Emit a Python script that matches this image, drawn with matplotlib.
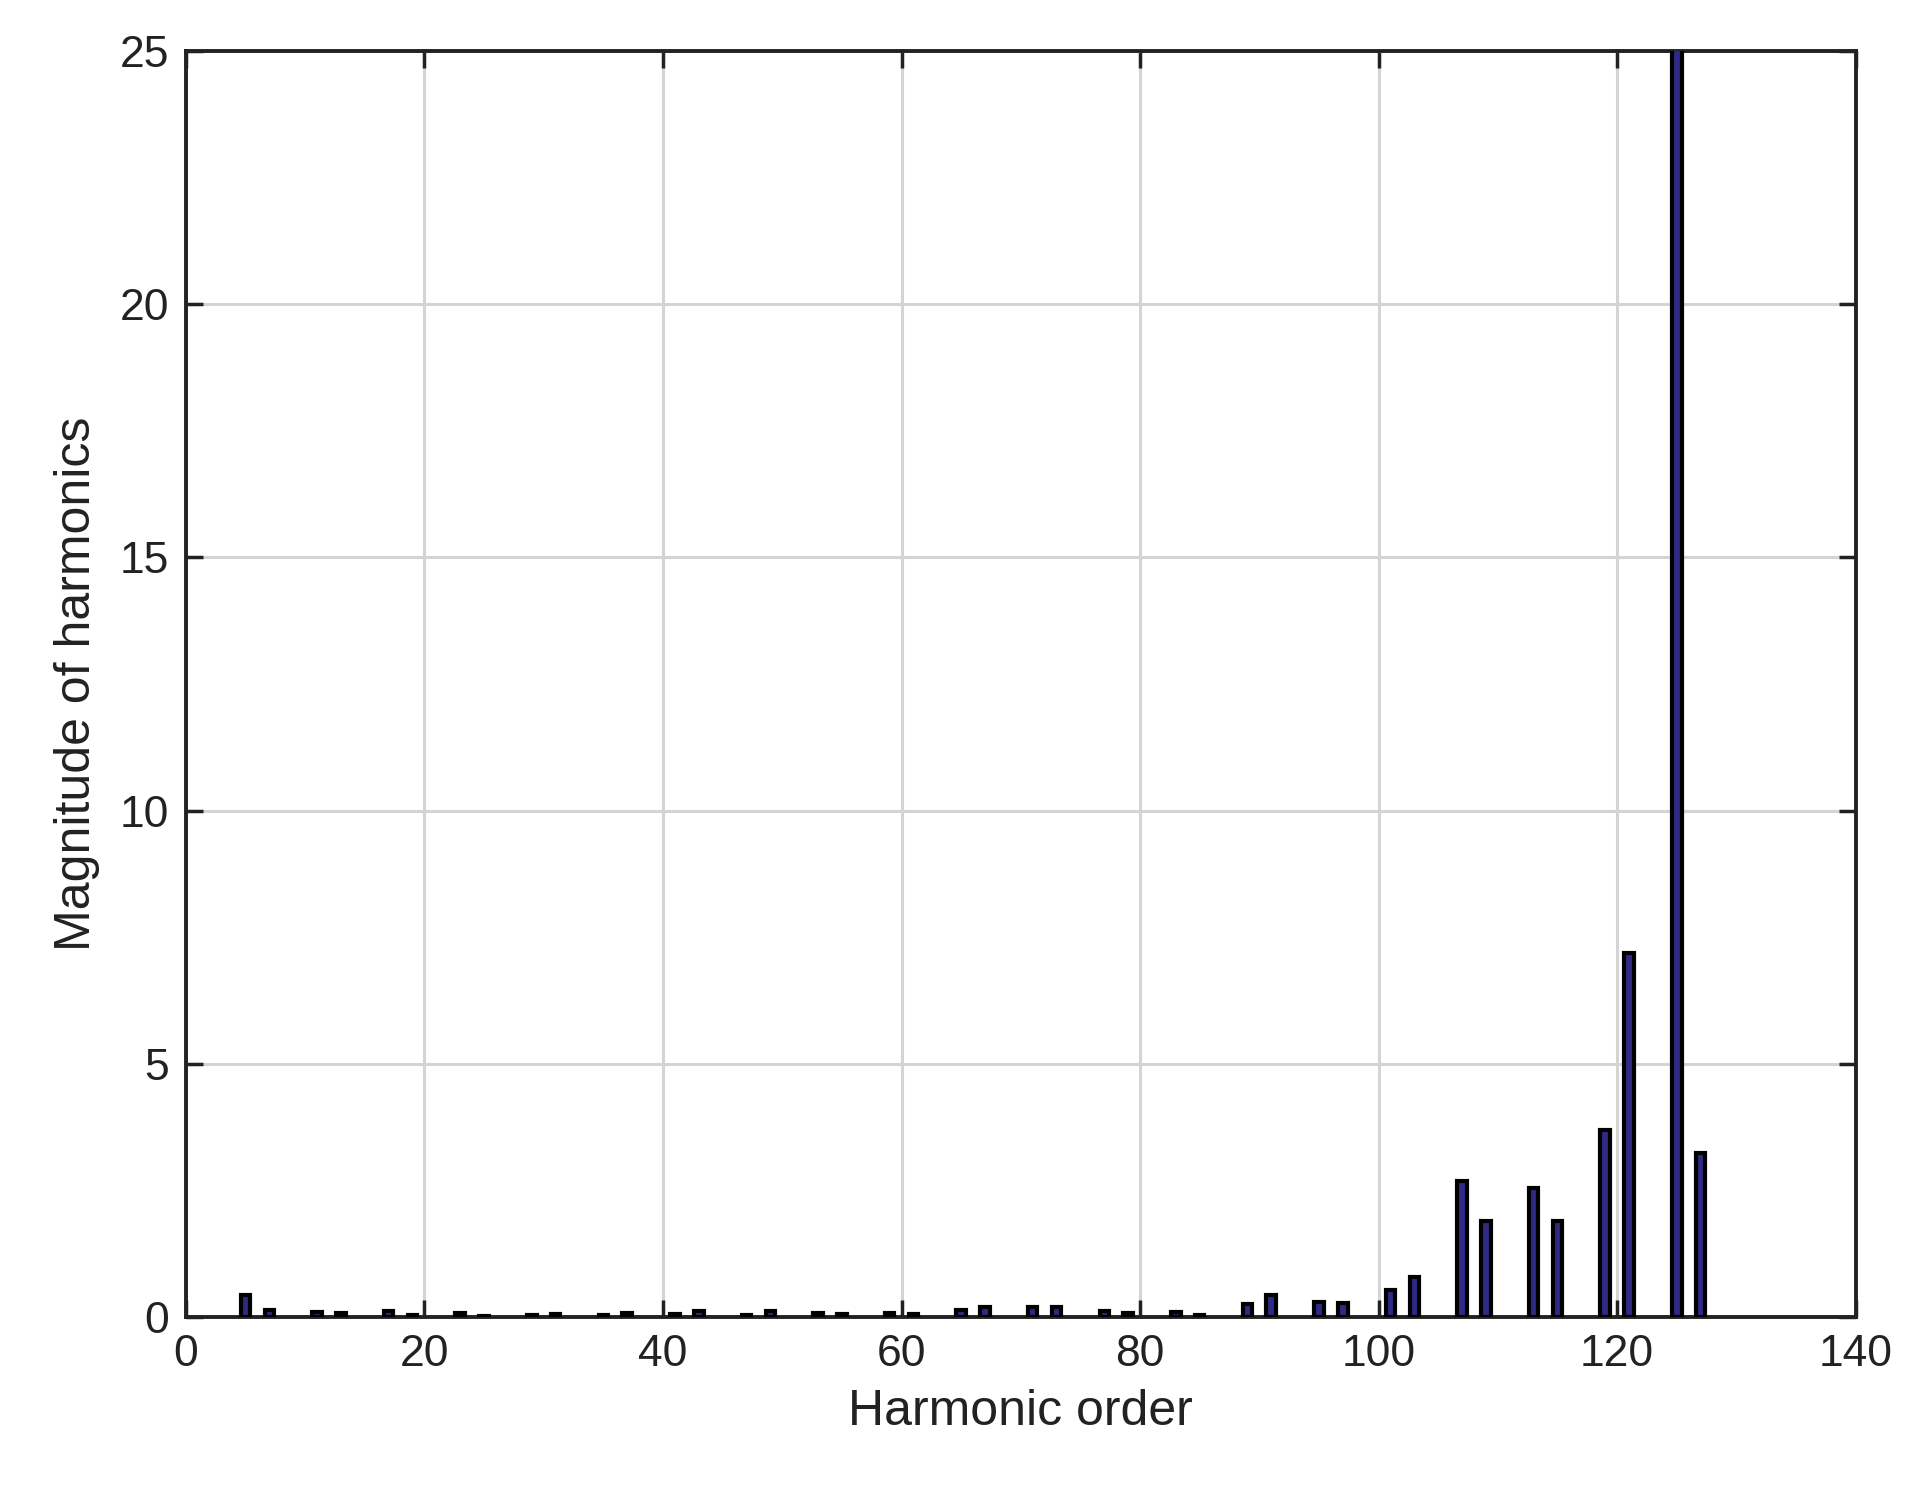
import matplotlib
matplotlib.use('Agg')
import matplotlib.pyplot as plt

plt.rcParams['font.family'] = ['Liberation Sans', 'DejaVu Sans']

# harmonic orders and magnitudes
orders = [5, 7, 11, 13, 17, 19, 23, 25, 29, 31, 35, 37, 41, 43, 47, 49, 53, 55, 59, 61,
          65, 67, 71, 73, 77, 79, 83, 85, 89, 91, 95, 97, 101, 103, 107, 109, 113, 115,
          119, 121, 125, 127]
magnitudes = [0.45, 0.15, 0.10, 0.08, 0.12, 0.05, 0.08, 0.03, 0.04, 0.06, 0.04, 0.08,
              0.06, 0.13, 0.05, 0.12, 0.08, 0.06, 0.08, 0.06, 0.15, 0.20, 0.20, 0.20,
              0.12, 0.08, 0.10, 0.05, 0.27, 0.45, 0.30, 0.28, 0.55, 0.80, 2.70, 1.90,
              2.55, 1.90, 3.70, 7.20, 30.0, 3.25]

fig = plt.figure(figsize=(19.17, 14.92), dpi=100)
ax = fig.add_axes([0.097, 0.117, 0.871, 0.849])
ax.bar(orders, magnitudes, width=0.8, color='#2e2a85', edgecolor='black', linewidth=3, zorder=3)
ax.set_xlim(0, 140)
ax.set_ylim(0, 25)
ax.set_xticks(range(0, 141, 20))
ax.set_yticks(range(0, 26, 5))
ax.grid(True, color='#d4d4d4', linewidth=2.2, zorder=0)
ax.tick_params(direction='in', length=12, width=2.5, labelsize=32, colors='#222222',
               top=True, right=True, pad=12)
for s in ax.spines.values():
    s.set_linewidth(2.8)
    s.set_color('#222222')
ax.set_xlabel('Harmonic order', fontsize=36, color='#222222', labelpad=10)
ax.set_ylabel('Magnitude of harmonics', fontsize=36, color='#222222', labelpad=14)
fig.savefig('out.png', dpi=100)
